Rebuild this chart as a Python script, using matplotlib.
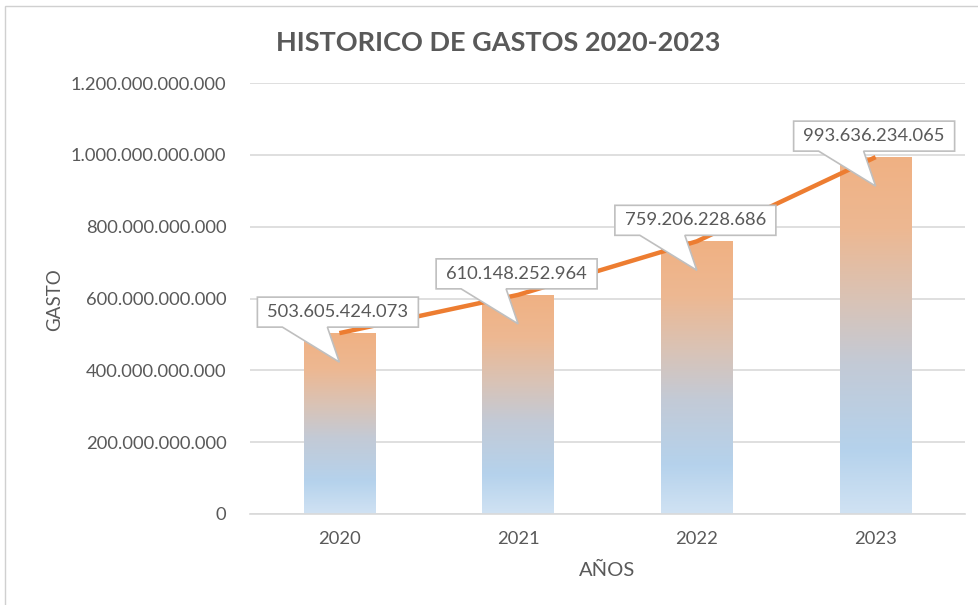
import matplotlib.pyplot as plt
import matplotlib.transforms as mtransforms
from matplotlib.patches import Polygon, Rectangle
from matplotlib.colors import LinearSegmentedColormap
from matplotlib.ticker import FuncFormatter
import numpy as np

years = ["2020", "2021", "2022", "2023"]
gastos = [503605424073, 610148252964, 759206228686, 993636234065]
labels = ["503.605.424.073", "610.148.252.964", "759.206.228.686", "993.636.234.065"]
yticks = [0, 200e9, 400e9, 600e9, 800e9, 1000e9, 1200e9]

plt.rcParams['font.family'] = ['Lato', 'DejaVu Sans']
txt = '#595959'

fig = plt.figure(figsize=(9.79, 6.05), dpi=100)
ax = fig.add_axes([250 / 979, 91 / 605, 715 / 979, 431 / 605])

# frame of the chart area
fig.patches.append(Rectangle((5 / 979, -0.1), 1.2, (599 / 605) + 0.1, transform=fig.transFigure,
                             fill=False, ec='#D0D0D0', lw=1.0))

x = np.arange(len(years))
width = 0.40

# gradient: bottom light blue -> blue -> gray -> orange top
grad = LinearSegmentedColormap.from_list('g', [
    (0.00, '#D0E2F3'),
    (0.18, '#B5D2EC'),
    (0.42, '#C3CAD6'),
    (0.60, '#D9C3B6'),
    (0.80, '#EDB892'),
    (1.00, '#F0B183'),
])
gimg = np.linspace(0, 1, 256).reshape(-1, 1)

bars = ax.bar(x, gastos, width=width, color='none', ec='none', zorder=2)
for b in bars:
    x0, w, h = b.get_x(), b.get_width(), b.get_height()
    im = ax.imshow(gimg, cmap=grad, aspect='auto', origin='lower',
                   extent=(x0, x0 + w, 0, h), zorder=2)
    im.set_clip_path(b)

ax.plot(x, gastos, color='#ED7D31', lw=3.2, solid_capstyle='butt', zorder=3)

# callouts (offsets in inches relative to data point)
for xi, v, lab in zip(x, gastos, labels):
    tr = fig.dpi_scale_trans + mtransforms.ScaledTranslation(xi, v, ax.transData)
    L, R, B, T = -0.82, 0.79, 0.06, 0.36
    verts = [(L, B), (-0.57, B), (0.0, -0.29), (-0.12, B), (R, B), (R, T), (L, T)]
    ax.add_patch(Polygon(verts, closed=True, transform=tr, fc='white', ec='#BFBFBF',
                         lw=1.2, zorder=4, clip_on=False))
    ax.text((L + R) / 2, (B + T) / 2, lab, transform=tr, ha='center', va='center',
            fontsize=13.2, color=txt, zorder=5)

ax.set_xlim(-0.5, 3.5)
ax.set_ylim(0, 1200e9)
ax.set_yticks(yticks)
ax.yaxis.set_major_formatter(FuncFormatter(lambda v, p: f"{int(round(v)):,}".replace(",", ".")))
ax.set_xticks(x)
ax.set_xticklabels(years)
ax.tick_params(length=0, labelsize=13.2, colors=txt, pad=12)
ax.tick_params(axis='y', pad=17)
ax.grid(axis='y', color='#D9D9D9', lw=1.2, zorder=0)
ax.set_axisbelow(True)
for s in ['top', 'right', 'left']:
    ax.spines[s].set_visible(False)
ax.spines['bottom'].set_color('#D9D9D9')
ax.spines['bottom'].set_linewidth(1.2)

ax.set_xlabel('AÑOS', fontsize=14.5, color=txt, labelpad=11)
fig.text(55 / 979, 1 - 300 / 605, 'GASTO', rotation=90, ha='center', va='center',
         fontsize=13.5, color=txt)
fig.text(498 / 979, 1 - 43 / 605, 'HISTORICO DE GASTOS 2020-2023', ha='center', va='center',
         fontsize=19.5, fontweight='bold', color=txt)

fig.savefig('out.png', dpi=100)
